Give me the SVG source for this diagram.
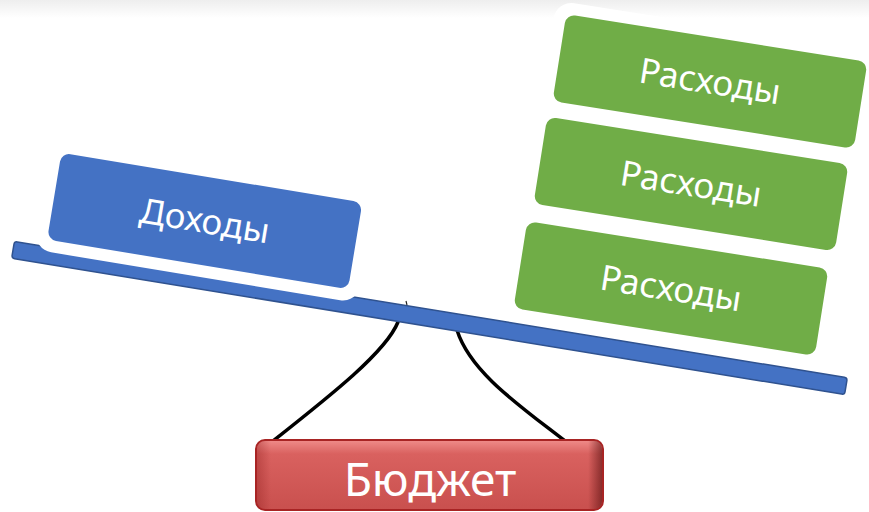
<svg xmlns="http://www.w3.org/2000/svg" width="869" height="512" viewBox="0 0 869 512">
<defs>
<linearGradient id="topg" x1="0" y1="0" x2="0" y2="1">
<stop offset="0" stop-color="#eeeeee"/>
<stop offset="1" stop-color="#ffffff"/>
</linearGradient>
<linearGradient id="redg" x1="0" y1="0" x2="0" y2="1">
<stop offset="0" stop-color="#f08c8a"/>
<stop offset="0.2" stop-color="#d9615f"/>
<stop offset="1" stop-color="#c9504e"/>
</linearGradient>
<linearGradient id="redside" x1="0" y1="0" x2="1" y2="0">
<stop offset="0" stop-color="#8b1a1a" stop-opacity="0.35"/>
<stop offset="0.04" stop-color="#8b1a1a" stop-opacity="0"/>
<stop offset="0.96" stop-color="#5a1010" stop-opacity="0"/>
<stop offset="1" stop-color="#5a1010" stop-opacity="0.6"/>
</linearGradient>
</defs>
<style>
.halo{fill:#ffffff}
.blue{fill:#4472C4}
.green{fill:#70AD47}
.lbl{font-family:"Noto Sans","DejaVu Sans",sans-serif;font-size:35px;fill:#ffffff;text-anchor:middle}
.rope{fill:none;stroke:#000000;stroke-width:3.5;stroke-linecap:round}
</style>
<rect x="0" y="0" width="869" height="18" fill="url(#topg)"/>
<g id="connectors">
<path class="rope" d="M398,322 C386,352 330,396 273,441"/>
<path class="rope" d="M457,330 C470,372 520,406 565,441"/>
</g>
<g id="beam">
<g transform="translate(429.5,318) rotate(9.3)">
<rect x="-422" y="-8.5" width="844" height="17" rx="3" fill="#4472C4" stroke="#2F528F" stroke-width="1.5"/>
</g>
<line x1="406" y1="301" x2="407" y2="305" stroke="#222" stroke-width="1.2"/>
</g>
<g id="income">
<g transform="translate(204.75,221) rotate(9.4)">
<rect class="halo" x="-164.5" y="-56" width="329" height="112" rx="18"/>
<rect class="blue" x="-152.5" y="-44" width="305" height="88" rx="9"/>
<text class="lbl" x="0" y="12">Доходы</text>
</g>
</g>
<g id="expense3">
<g transform="translate(671,288.5) rotate(9)">
<rect class="halo" x="-164.5" y="-56" width="329" height="112" rx="18"/>
<rect class="green" x="-152.5" y="-44" width="305" height="88" rx="9"/>
<text class="lbl" x="0" y="12">Расходы</text>
</g>
</g>
<g id="expense2">
<g transform="translate(691,184) rotate(9)">
<rect class="halo" x="-164.5" y="-56" width="329" height="112" rx="18"/>
<rect class="green" x="-152.5" y="-44" width="305" height="88" rx="9"/>
<text class="lbl" x="0" y="12">Расходы</text>
</g>
</g>
<g id="expense1">
<g transform="translate(710,81.5) rotate(9)">
<rect class="halo" x="-164.5" y="-56" width="329" height="112" rx="18"/>
<rect class="green" x="-152.5" y="-44" width="305" height="88" rx="9"/>
<text class="lbl" x="0" y="12">Расходы</text>
</g>
</g>
<g id="budget">
<rect x="256" y="440" width="347" height="70" rx="9" fill="url(#redg)" stroke="#a82424" stroke-width="2"/>
<rect x="257" y="441" width="345" height="68" rx="8" fill="url(#redside)"/>
<text x="430" y="496" font-family="Noto Sans, DejaVu Sans, sans-serif" font-size="46" fill="#ffffff" text-anchor="middle">Бюджет</text>
</g>
</svg>
